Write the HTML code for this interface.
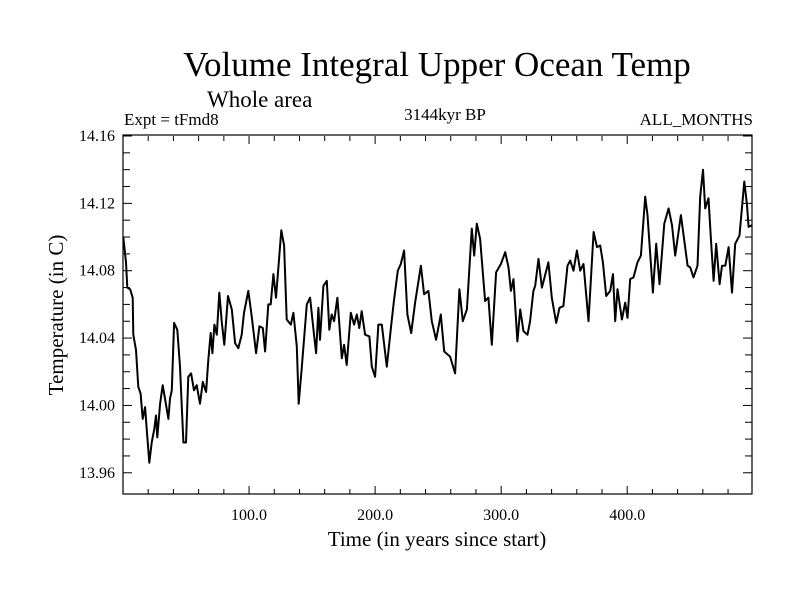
<!DOCTYPE html>
<html><head><meta charset="utf-8"><style>
html,body{margin:0;padding:0;background:#fff;}
svg{display:block;font-family:"Liberation Serif",serif;}
</style></head><body>
<svg id="chart" width="800" height="600" viewBox="0 0 800 600" xmlns="http://www.w3.org/2000/svg">
<rect width="800" height="600" fill="#fff"/>
<text x="437" y="76" font-size="35" text-anchor="middle">Volume Integral Upper Ocean Temp</text>
<text x="207" y="107" font-size="23">Whole area</text>
<text x="124" y="125" font-size="17">Expt = tFmd8</text>
<text x="445" y="120" font-size="17" text-anchor="middle">3144kyr BP</text>
<text x="753" y="125" font-size="17" text-anchor="end">ALL_MONTHS</text>
<text transform="translate(63,315) rotate(-90)" font-size="21" text-anchor="middle">Temperature (in C)</text>
<text x="437" y="546" font-size="21" text-anchor="middle">Time (in years since start)</text>
<g id="axes"></g>
<path id="series" fill="none" stroke="#000" stroke-width="2" stroke-linejoin="round"/>
</svg>
<script>
const years=[0.2,2.4,3.4,5.6,7.7,8.2,10.3,12.1,14.0,15.6,17.5,18.8,20.9,22.8,24.8,26.2,27.2,29.4,31.5,33.3,36.0,37.3,38.7,40.5,43.1,45.2,47.9,50.0,51.8,54.0,56.3,58.5,61.1,63.3,65.9,67.7,69.6,70.9,72.5,74.4,76.4,78.3,80.4,83.3,86.3,88.9,91.5,94.2,96.0,99.4,102.1,105.6,108.2,110.9,112.7,115.3,117.2,119.3,121.4,123.3,125.6,127.8,129.9,133.1,135.2,137.9,139.4,141.8,145.8,148.4,151.0,153.2,155.0,156.3,159.0,161.7,163.7,165.6,167.5,170.1,173.6,175.4,177.5,180.7,183.3,185.5,187.5,189.4,192.1,195.5,197.4,200.0,202.6,205.3,209.3,212.5,215.1,218.0,220.4,223.0,225.6,228.6,231.7,236.3,238.9,242.3,245.0,248.4,252.1,254.8,259.5,263.5,266.9,269.6,272.8,276.7,278.6,280.7,283.3,287.3,289.9,292.6,296.0,299.8,303.2,305.8,307.7,309.8,312.9,315.1,317.7,320.9,323.0,325.6,327.0,329.6,332.3,334.1,337.5,340.2,343.7,346.3,349.4,352.6,354.8,357.4,360.1,362.7,365.3,369.3,373.3,376.0,378.6,380.7,383.3,386.5,388.7,390.5,392.3,395.8,398.4,400.2,402.4,405.0,408.2,410.9,414.3,416.1,420.4,423.0,425.6,429.4,432.8,435.5,438.1,442.6,444.7,447.9,450.0,452.6,455.8,457.9,460.1,461.9,464.5,466.4,468.5,470.6,473.3,475.2,477.8,480.4,483.1,485.7,489.1,492.9,495.0,496.3,499.0];
const temps=[14.100,14.085,14.070,14.069,14.064,14.042,14.033,14.011,14.007,13.992,13.999,13.986,13.966,13.978,13.986,13.994,13.981,14.001,14.012,14.004,13.992,14.004,14.009,14.049,14.045,14.023,13.978,13.978,14.017,14.019,14.009,14.012,14.001,14.014,14.008,14.027,14.043,14.031,14.048,14.042,14.067,14.050,14.036,14.065,14.057,14.037,14.034,14.042,14.055,14.068,14.053,14.031,14.047,14.046,14.032,14.060,14.060,14.078,14.064,14.082,14.104,14.095,14.051,14.048,14.055,14.035,14.001,14.022,14.060,14.064,14.046,14.031,14.058,14.039,14.071,14.074,14.045,14.054,14.050,14.064,14.028,14.036,14.024,14.055,14.048,14.054,14.046,14.056,14.042,14.041,14.023,14.017,14.048,14.048,14.023,14.046,14.063,14.080,14.084,14.092,14.054,14.043,14.061,14.083,14.066,14.068,14.050,14.039,14.054,14.032,14.029,14.019,14.069,14.050,14.057,14.105,14.089,14.108,14.099,14.062,14.064,14.036,14.079,14.084,14.091,14.082,14.068,14.075,14.038,14.057,14.044,14.042,14.050,14.068,14.071,14.087,14.070,14.075,14.085,14.064,14.049,14.058,14.059,14.083,14.086,14.080,14.092,14.080,14.084,14.050,14.103,14.094,14.095,14.085,14.065,14.068,14.078,14.050,14.069,14.051,14.061,14.052,14.075,14.076,14.085,14.089,14.124,14.113,14.067,14.096,14.072,14.108,14.117,14.107,14.089,14.113,14.101,14.083,14.082,14.076,14.083,14.124,14.140,14.117,14.123,14.099,14.074,14.096,14.072,14.083,14.083,14.094,14.067,14.096,14.101,14.133,14.119,14.106,14.107];
const xTickValues=[100,200,300,400];
const xTickLabels=["100.0","200.0","300.0","400.0"];
const yTickValues=[13.96,14.00,14.04,14.08,14.12,14.16];
const yTickLabels=["13.96","14.00","14.04","14.08","14.12","14.16"];

const L=123,R=752,T=136,B=494;
const xMin=0,xMax=499,yMin=13.9474,yMax=14.16;
const xs=v=>L+(v-xMin)/(xMax-xMin)*(R-L);
const ys=v=>B-(v-yMin)/(yMax-yMin)*(B-T);
const NS="http://www.w3.org/2000/svg";
const ax=document.getElementById('axes');
function line(x1,y1,x2,y2,w){const l=document.createElementNS(NS,'line');l.setAttribute('x1',x1);l.setAttribute('y1',y1);l.setAttribute('x2',x2);l.setAttribute('y2',y2);l.setAttribute('stroke','#000');l.setAttribute('stroke-width',w||1);ax.appendChild(l);return l;}
const fr=document.createElementNS(NS,'rect');


fr.setAttribute('x',L);fr.setAttribute('y',T-1);fr.setAttribute('width',R-L);fr.setAttribute('height',B-T+1);fr.setAttribute('fill','none');fr.setAttribute('stroke','#000');fr.setAttribute('stroke-width','1.2');
ax.appendChild(fr);
// x minor ticks every 20
for(let v=20;v<xMax;v+=20){const x=xs(v);const major=v%100===0;const len=major?8:5;
 const a=line(x,B,x,B-len);
 const b=line(x,T,x,T+len);}
// y minor ticks every 0.01
for(let k=0;k<=20;k++){const v=13.96+k*0.01;const y=ys(v);if(y<T-0.5)continue;const major=k%4===0;const len=major?9:7;
 const a=line(L,y,L+len,y);
 const b=line(R,y,R-len,y);}
xTickValues.forEach((v,i)=>{const t=document.createElementNS(NS,'text');
 
 
 t.setAttribute('x',xs(v));t.setAttribute('y',520);t.setAttribute('font-size','16');t.setAttribute('text-anchor','middle');t.textContent=xTickLabels[i];ax.appendChild(t);});
yTickValues.forEach((v,i)=>{const t=document.createElementNS(NS,'text');
 
 
 t.setAttribute('x',115);t.setAttribute('y',ys(v)+5);t.setAttribute('font-size','16');t.setAttribute('text-anchor','end');t.textContent=yTickLabels[i];ax.appendChild(t);});
let d='';years.forEach((v,i)=>{d+=(i?'L':'M')+xs(v).toFixed(1)+','+ys(temps[i]).toFixed(1);});
document.getElementById('series').setAttribute('d',d);
</script>
</body></html>
